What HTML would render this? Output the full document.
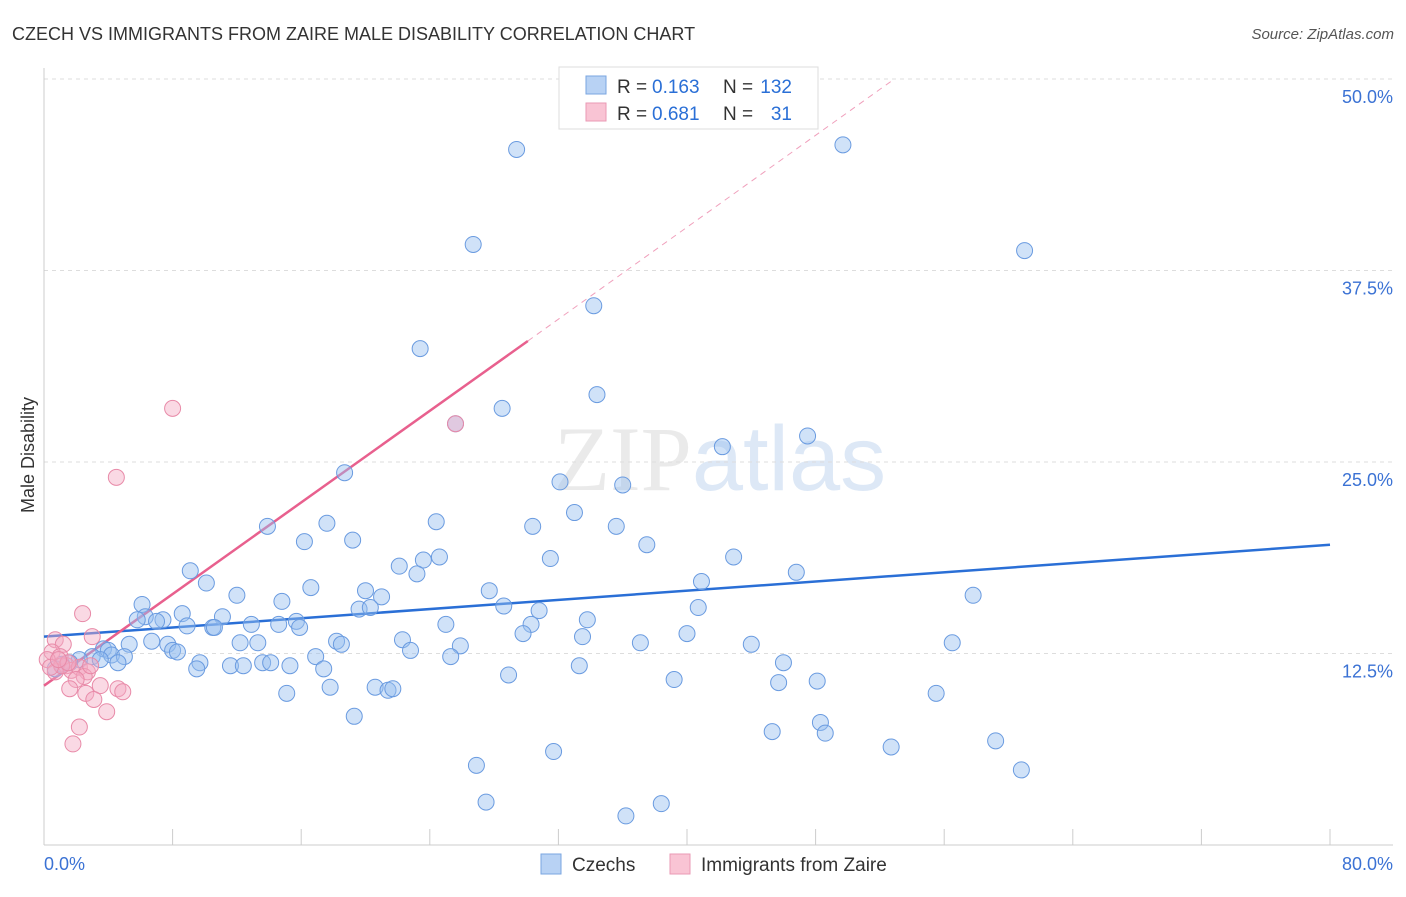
<!DOCTYPE html>
<html><head><meta charset="utf-8"><style>
body{margin:0;background:#fff;font-family:"Liberation Sans",sans-serif;}
svg text{font-family:"Liberation Sans",sans-serif;}
</style></head><body>
<svg width="1406" height="892" viewBox="0 0 1406 892" xmlns="http://www.w3.org/2000/svg" id="chart">
<text x="12" y="40" font-size="18" fill="#333">CZECH VS IMMIGRANTS FROM ZAIRE MALE DISABILITY CORRELATION CHART</text>
<text x="1394" y="39" font-size="15" fill="#555" text-anchor="end" font-style="italic">Source: ZipAtlas.com</text>
<text x="720" y="490" font-size="92" text-anchor="middle" fill="#e2e2e2" opacity="0.7"><tspan font-family="Liberation Serif">ZIP</tspan><tspan fill="#cfdff3">atlas</tspan></text>
<text transform="translate(34,455) rotate(-90)" font-size="18" fill="#333" text-anchor="middle">Male Disability</text>
<g id="grid"></g><g id="trends"></g><g id="pts"></g>
<g>
<rect x="559" y="67" width="259" height="62" fill="#fff" stroke="#ddd"/>
<rect x="586" y="76" width="20" height="18" fill="#b8d2f4" stroke="#7aa6e0"/>
<rect x="586" y="103" width="20" height="18" fill="#f9c4d4" stroke="#ea9ab4"/>
<text x="617" y="93" font-size="19" fill="#333">R =</text>
<text x="652" y="93" font-size="19" fill="#2a6fd6">0.163</text>
<text x="723" y="93" font-size="19" fill="#333">N =</text>
<text x="792" y="93" font-size="19" fill="#2a6fd6" text-anchor="end">132</text>
<text x="617" y="120" font-size="19" fill="#333">R =</text>
<text x="652" y="120" font-size="19" fill="#2a6fd6">0.681</text>
<text x="723" y="120" font-size="19" fill="#333">N =</text>
<text x="792" y="120" font-size="19" fill="#2a6fd6" text-anchor="end">31</text>
</g>
<g>
<rect x="541" y="854" width="20" height="20" fill="#b8d2f4" stroke="#7aa6e0"/>
<text x="572" y="871" font-size="19" fill="#333">Czechs</text>
<rect x="670" y="854" width="20" height="20" fill="#f9c4d4" stroke="#ea9ab4"/>
<text x="701" y="871" font-size="19" fill="#333">Immigrants from Zaire</text>
</g>
</svg>
<script>
const yTicks=[12.5,25,37.5,50];
const yTickLabels=["12.5%","25.0%","37.5%","50.0%"];
const xTicks=[0,8,16,24,32,40,48,56,64,72,80];
const blueX=[29.4,49.7,26.7,61.0,34.2,23.4,34.4,28.5,25.6,42.2,47.5,18.7,32.1,36.0,13.9,17.6,24.4,33.0,30.4,35.6,19.2,16.2,37.5,31.5,42.9,24.6,23.6,22.1,23.2,9.1,46.8,40.9,10.1,16.6,20.0,27.7,21.0,12.0,6.1,14.8,19.6,20.3,28.6,30.8,40.7,57.8,6.3,8.6,11.1,7.4,5.8,7.0,8.9,10.5,12.9,15.7,14.6,15.9,25.0,33.8,30.3,29.8,40.0,10.6,6.7,5.3,7.7,12.2,13.3,18.2,18.5,22.3,22.8,25.9,33.5,37.1,44.0,56.5,3.7,4.0,8.0,8.3,4.2,3.0,5.0,3.5,4.6,2.2,1.6,1.1,0.7,9.7,11.6,12.4,13.6,14.1,15.3,16.9,17.4,25.3,33.3,46.0,9.5,28.9,39.2,45.7,48.1,17.8,20.6,21.4,21.7,15.1,55.5,19.3,48.3,48.6,45.3,52.7,59.2,31.7,26.9,60.8,27.5,38.4,36.2];
const blueY=[45.4,45.7,39.2,38.8,35.2,32.4,29.4,28.5,27.5,26.0,26.7,24.3,23.7,23.5,20.8,21.0,21.1,21.7,20.8,20.8,19.9,19.8,19.6,18.7,18.8,18.8,18.6,18.2,17.7,17.9,17.8,17.2,17.1,16.8,16.6,16.6,16.2,16.3,15.7,15.9,15.4,15.5,15.6,15.3,15.5,16.3,14.9,15.1,14.9,14.7,14.7,14.6,14.3,14.2,14.4,14.6,14.4,14.2,14.4,14.7,14.4,13.8,13.8,14.2,13.3,13.1,13.1,13.2,13.2,13.3,13.1,13.4,12.7,13.0,13.6,13.2,13.1,13.2,12.8,12.7,12.7,12.6,12.4,12.3,12.3,12.1,11.9,12.1,11.9,11.8,11.5,11.9,11.7,11.7,11.9,11.9,11.7,12.3,11.5,12.3,11.7,11.9,11.5,11.1,10.8,10.6,10.7,10.3,10.3,10.1,10.2,9.9,9.9,8.4,8.0,7.3,7.4,6.4,6.8,6.1,5.2,4.9,2.8,2.7,1.9];
const pinkX=[8.0,4.5,2.4,3.0,0.7,1.2,0.5,1.0,0.2,1.4,1.7,2.2,2.7,2.5,2.0,3.5,4.6,4.9,1.6,2.6,3.1,3.9,2.2,1.8,0.7,1.1,0.4,25.6,1.5,2.9,0.9];
const pinkY=[28.5,24.0,15.1,13.6,13.4,13.1,12.6,12.3,12.1,11.7,11.4,11.6,11.3,11.0,10.8,10.4,10.2,10.0,10.2,9.9,9.5,8.7,7.7,6.6,11.3,11.7,11.6,27.5,11.9,11.7,12.1];
const blueTrend=[[0,13.6],[80,19.6]];
const pinkTrend=[[0,10.4],[30.1,32.9]];
const pinkTrendExt=[[30.1,32.9],[52.9,50]];
const NS="http://www.w3.org/2000/svg";
const X=v=>44+v/80*1286, Y=v=>845-v/50*766;
function mk(tag,attrs,parent){const e=document.createElementNS(NS,tag);for(const k in attrs)e.setAttribute(k,attrs[k]);document.getElementById(parent).appendChild(e);return e;}
const g='grid';
yTicks.forEach((t,i)=>{
 const l=mk('line',{x1:44,x2:1393,y1:Y(t),y2:Y(t),stroke:'#ddd','stroke-dasharray':'4,4'},g);
 
 
 const tx=mk('text',{x:1393,y:Y(t)+24,'font-size':18,fill:'#3b72d4','text-anchor':'end'},g);
 
 
 tx.textContent=yTickLabels[i];
});
const topGrid=mk('line',{x1:44,x2:1393,y1:79,y2:79,stroke:'#ddd','stroke-dasharray':'4,4'},g);


const ya=mk('line',{x1:44,x2:44,y1:68,y2:845,stroke:'#ccc'},g);


const xa=mk('line',{x1:44,x2:1393,y1:845,y2:845,stroke:'#ccc'},g);


xTicks.forEach(t=>{const l=mk('line',{x1:X(t),x2:X(t),y1:829,y2:845,stroke:'#ccc'},g);
 
 });
const xl0=mk('text',{x:44,y:870,'font-size':18,fill:'#3b72d4'},g);


xl0.textContent='0.0%';
const xl1=mk('text',{x:1393,y:870,'font-size':18,fill:'#3b72d4','text-anchor':'end'},g);


xl1.textContent='80.0%';
blueX.forEach((v,i)=>{const c=mk('circle',{cx:X(v),cy:Y(blueY[i]),r:8,fill:'rgba(150,190,240,0.45)',stroke:'#6a9be0','stroke-width':1},'pts');
 
 });
pinkX.forEach((v,i)=>{const c=mk('circle',{cx:X(v),cy:Y(pinkY[i]),r:8,fill:'rgba(245,170,195,0.45)',stroke:'#e88aa8','stroke-width':1},'pts');
 
 });
const bt=mk('line',{x1:X(blueTrend[0][0]),y1:Y(blueTrend[0][1]),x2:X(blueTrend[1][0]),y2:Y(blueTrend[1][1]),stroke:'#2a6fd6','stroke-width':2.5},'trends');


const pt=mk('line',{x1:X(pinkTrend[0][0]),y1:Y(pinkTrend[0][1]),x2:X(pinkTrend[1][0]),y2:Y(pinkTrend[1][1]),stroke:'#e8608e','stroke-width':2.5},'trends');


const pe=mk('line',{x1:X(pinkTrendExt[0][0]),y1:Y(pinkTrendExt[0][1]),x2:X(pinkTrendExt[1][0]),y2:Y(pinkTrendExt[1][1]),stroke:'#f0a0bc','stroke-width':1,'stroke-dasharray':'6,5'},'trends');


</script>
</body></html>
